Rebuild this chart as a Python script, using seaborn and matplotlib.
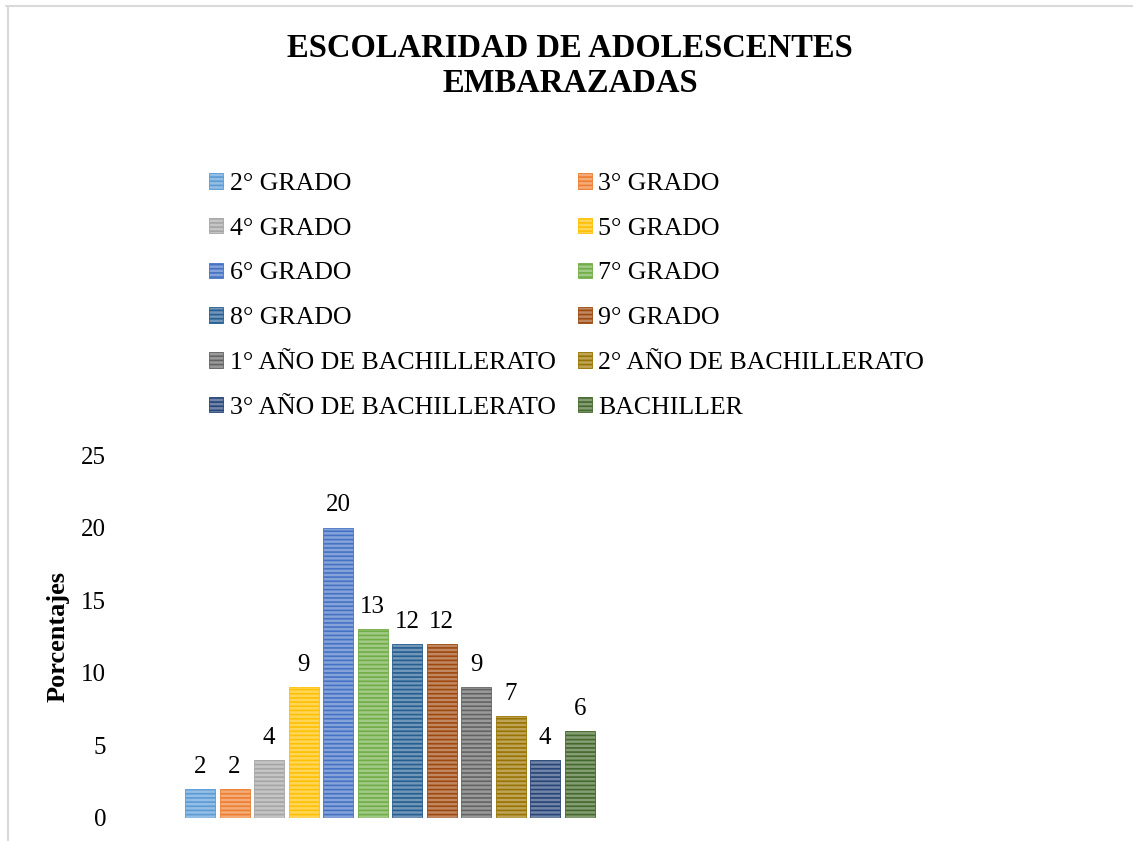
import numpy as np
import matplotlib
matplotlib.use("Agg")
import matplotlib.pyplot as plt
from matplotlib.lines import Line2D
from matplotlib.colors import to_rgb
import seaborn as sns

categorias = [
    "2° GRADO", "3° GRADO", "4° GRADO", "5° GRADO", "6° GRADO", "7° GRADO",
    "8° GRADO", "9° GRADO", "1° AÑO DE BACHILLERATO", "2° AÑO DE BACHILLERATO",
    "3° AÑO DE BACHILLERATO", "BACHILLER",
]
porcentajes = [2, 2, 4, 9, 20, 13, 12, 12, 9, 7, 4, 6]
colores = [
    "#5B9BD5", "#ED7D31", "#A5A5A5", "#FFC000", "#4472C4", "#70AD47",
    "#255E91", "#9E480E", "#636363", "#997300", "#264478", "#43682B",
]
yticks = [0, 5, 10, 15, 20, 25]

sns.set_style("white")
plt.rcParams["font.family"] = ["Liberation Serif", "DejaVu Serif"]
plt.rcParams["text.color"] = "black"
plt.rcParams["axes.labelcolor"] = "black"
plt.rcParams["ytick.color"] = "black"
plt.rcParams["hatch.linewidth"] = 1.2

fig = plt.figure(figsize=(11.33, 8.41), dpi=100)
ax = fig.add_axes([120 / 1133, 23 / 841, 1000 / 1133, 363 / 841])

sns.barplot(
    x=categorias,
    y=porcentajes,
    hue=categorias,
    palette=colores,
    width=0.87,
    legend=False,
    ax=ax,
)


def aclarar(c, f=0.35):
    r, g, b = to_rgb(c)
    return (r + (1 - r) * f, g + (1 - g) * f, b + (1 - b) * f)


# horizontal stripes like the Excel pattern fill
for patch, c in zip(ax.patches, colores):
    patch.set_facecolor(aclarar(c))
    patch.set_edgecolor(c)
    patch.set_hatch("----")
    patch.set_linewidth(0.6)

for cont in ax.containers:
    ax.bar_label(cont, padding=8, fontsize=18, color="black")

ax.set_xlim(-80 / 34.5, 11 + 540 / 34.5)
ax.set_ylim(0, 25)
ax.set_yticks(yticks)
ax.set_xticks([])
ax.set_xlabel("")
ax.tick_params(axis="y", length=0, pad=10, labelsize=18, labelcolor="black")
ax.set_ylabel("Porcentajes", fontsize=19, fontweight="bold", labelpad=8)
sns.despine(ax=ax, left=True, bottom=True)

# legend filled row by row in two columns
orden = list(range(0, 12, 2)) + list(range(1, 12, 2))
handles = [ax.patches[i] for i in orden]
labels = [categorias[i] for i in orden]
fig.legend(
    handles, labels,
    ncol=2,
    loc="upper left",
    bbox_to_anchor=(209 / 1133, 1 - 173 / 841),
    frameon=False,
    fontsize=18.6,
    handlelength=0.55,
    handleheight=0.55,
    handletextpad=0.25,
    columnspacing=0.85,
    labelspacing=0.88,
    borderpad=0,
    borderaxespad=0,
)

fig.text(
    0.503, 1 - 66 / 841,
    "ESCOLARIDAD DE ADOLESCENTES\nEMBARAZADAS",
    ha="center", va="center",
    fontsize=23.5, fontweight="bold", linespacing=1.2,
)

# chart area frame
fig.add_artist(Line2D([6 / 1133, 1], [1 - 6 / 841, 1 - 6 / 841],
                      transform=fig.transFigure, color="#d9d9d9", lw=1.5))
fig.add_artist(Line2D([7.5 / 1133, 7.5 / 1133], [0, 1 - 6 / 841],
                      transform=fig.transFigure, color="#d9d9d9", lw=1.5))

fig.savefig("out.png", dpi=100, facecolor="white")
